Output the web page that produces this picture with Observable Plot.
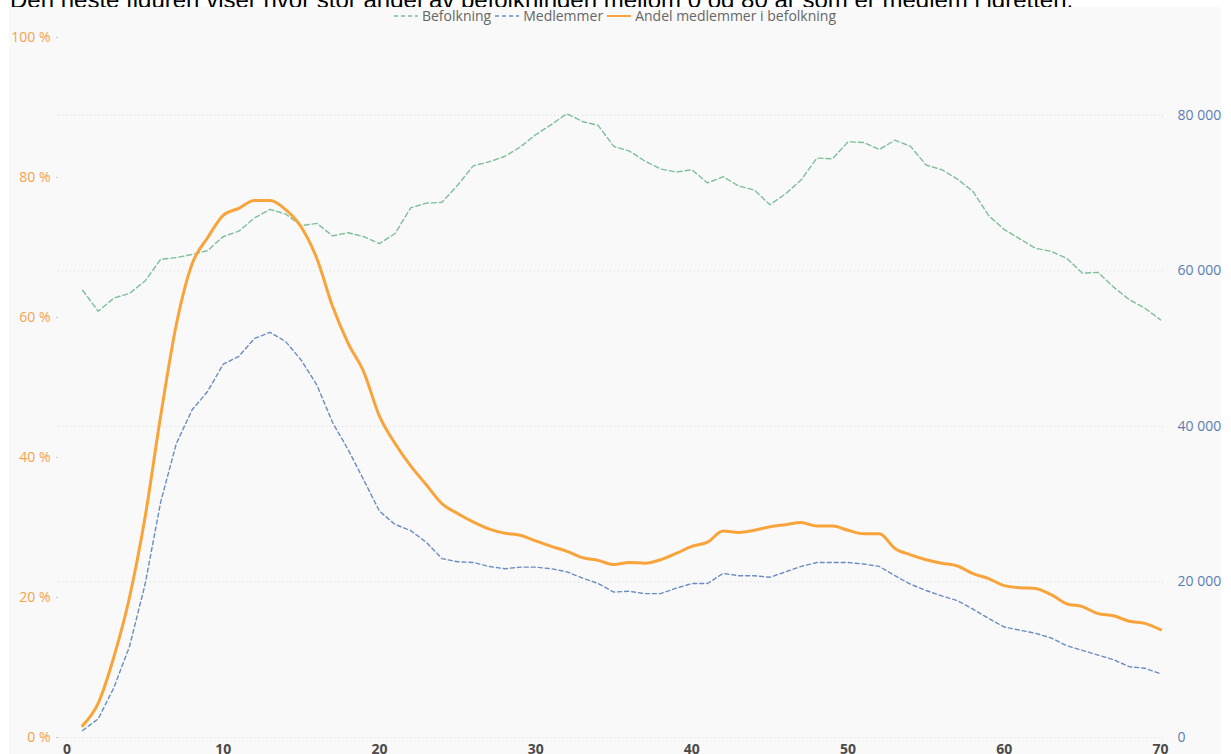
<!DOCTYPE html>
<html>
<head>
<meta charset="utf-8">
<script src="https://cdn.jsdelivr.net/npm/d3@7"></script>
<script src="https://cdn.jsdelivr.net/npm/@observablehq/plot@0.6"></script>
<style>
  html, body { margin: 0; padding: 0; background: #ffffff; overflow: hidden; }
  body { width: 1231px; height: 754px; position: relative; }
  #headwrap { position: absolute; left: 0; top: 0; width: 1231px; height: 8px; overflow: hidden; z-index: 0; }
  #heading { position: absolute; left: 10px; top: -12px; font: 24px "Liberation Sans", "Noto Sans", sans-serif; line-height: 24px; color: #000; white-space: nowrap; }
  #panel { position: absolute; left: 9px; top: 7px; width: 1212px; height: 747px; background: #f9f9f9; z-index: 1; }
  #legend { position: absolute; left: 0; top: 0; width: 1212px; text-align: center; font: 14px "Open Sans", sans-serif; color: #666; line-height: 18px; z-index: 2; }
  #legend span.item { display: inline-flex; align-items: center; margin: 0 2px; }
  #legend svg { margin-right: 4px; }
  #chart { position: absolute; left: 0; top: 0; }
</style>
</head>
<body>
<div id="headwrap"><div id="heading">Den neste figuren viser hvor stor andel av befolkningen mellom 0 og 80 år som er medlem i idretten.</div></div>
<div id="panel">
  <div id="chart"></div>
  <div id="legend"></div>
</div>
<script>
const ages = [1,2,3,4,5,6,7,8,9,10,11,12,13,14,15,16,17,18,19,20,21,22,23,24,25,26,27,28,29,30,31,32,33,34,35,36,37,38,39,40,41,42,43,44,45,46,47,48,49,50,51,52,53,54,55,56,57,58,59,60,61,62,63,64,65,66,67,68,69,70];
const befolkning = [57500,54800,56500,57100,58700,61500,61700,62100,62600,64400,65100,66800,67900,67300,65800,66100,64500,64900,64400,63500,64800,68100,68700,68800,71000,73500,74000,74700,75900,77500,78800,80200,79200,78700,76000,75400,74100,73100,72700,73000,71300,72100,70900,70400,68500,69900,71700,74500,74400,76600,76500,75600,76800,76000,73600,73000,71800,70200,67100,65300,64100,62900,62500,61600,59700,59800,57900,56300,55200,53700];
const medlemmer = [900,2400,6400,11700,19700,30300,37800,42100,44500,48000,49000,51300,52100,50900,48500,45300,40500,37000,33100,29100,27400,26600,25100,23000,22600,22500,22000,21700,21900,21900,21700,21300,20500,19800,18700,18800,18500,18500,19200,19800,19800,21100,20800,20800,20600,21300,22000,22500,22500,22500,22300,22000,20800,19700,18900,18200,17600,16500,15300,14200,13800,13400,12800,11800,11200,10600,10000,9100,8900,8200];
const andel = [1.7,4.9,11.5,20,31.5,46,59,67.6,71.4,74.6,75.6,76.7,76.7,75.4,72.9,68.4,61.6,56.3,52.2,45.9,42,38.8,36.1,33.4,32,30.8,29.8,29.2,28.9,28.1,27.3,26.6,25.7,25.3,24.7,25,24.9,25.4,26.3,27.3,27.9,29.5,29.3,29.6,30.1,30.4,30.7,30.2,30.2,29.6,29.1,29.1,27,26.1,25.4,24.9,24.5,23.4,22.7,21.7,21.4,21.3,20.4,19.1,18.7,17.7,17.4,16.6,16.3,15.4];
const xTicks = [0,10,20,30,40,50,60,70];
const leftTicks = [0,20,40,60,80,100];
const rightTicks = [0,20000,40000,60000,80000];
const rightMax = 90000;
const legendNames = ["Befolkning","Medlemmer","Andel medlemmer i befolkning"];

const cGreen = "#7dbf98", cBlue = "#6b8cc0", cOrange = "#f9a43a";
const toPct = v => v / rightMax * 100;
const fmtNum = v => d3.format(",")(v).replace(/,/g, "\u00a0");

const rows = ages.map((a, i) => ({age: a, pop: toPct(befolkning[i]), mem: toPct(medlemmer[i]), share: andel[i]}));

const chart = Plot.plot({
  width: 1212,
  height: 747,
  marginLeft: 49,
  marginRight: 56,
  marginTop: 30,
  marginBottom: 17,
  style: {background: "transparent", fontFamily: "'Open Sans', sans-serif", overflow: "visible"},
  x: {domain: [-0.544, 70.32]},
  y: {domain: [0, 100]},
  marks: [
    Plot.ruleY(rightTicks.map(toPct), {stroke: "#d8d8d8", strokeDasharray: "1,3", strokeWidth: 1}),
    Plot.axisX({ticks: xTicks, tickSize: 0, tickPadding: 7, tickFormat: d => d, fontSize: 14, fontWeight: "bold", fill: "#4a4a4a", label: null}),
    Plot.axisY({anchor: "left", ticks: leftTicks, tickSize: 2, tickPadding: 6, stroke: "#ccc", tickFormat: d => d + " %", fontSize: 14, fill: "#f7a24d", label: null}),
    Plot.axisY({anchor: "right", ticks: rightTicks.map(toPct), tickSize: 0, tickPadding: 12, tickFormat: d => fmtNum(Math.round(d * rightMax / 100)), fontSize: 14, fill: "#5b7db4", label: null}),
    Plot.line(rows, {x: "age", y: "pop", stroke: cGreen, strokeWidth: 1.4, strokeDasharray: "5,3"}),
    Plot.line(rows, {x: "age", y: "mem", stroke: cBlue, strokeWidth: 1.4, strokeDasharray: "4,3"}),
    Plot.line(rows, {x: "age", y: "share", stroke: cOrange, strokeWidth: 3, curve: "monotone-x"})
  ]
});
document.getElementById("chart").appendChild(chart);

const legend = document.getElementById("legend");
const styles = [[cGreen, "4,3"], [cBlue, "4,3"], [cOrange, null]];
legendNames.forEach((name, i) => {
  const span = document.createElement("span");
  span.className = "item";
  const [col, dash] = styles[i];
  span.innerHTML = `<svg width="24" height="10"><line x1="0" x2="24" y1="5" y2="5" stroke="${col}" stroke-width="${dash ? 1.5 : 2}" ${dash ? `stroke-dasharray="${dash}"` : ""}/></svg>${name}`;
  legend.appendChild(span);
});
</script>
</body>
</html>
